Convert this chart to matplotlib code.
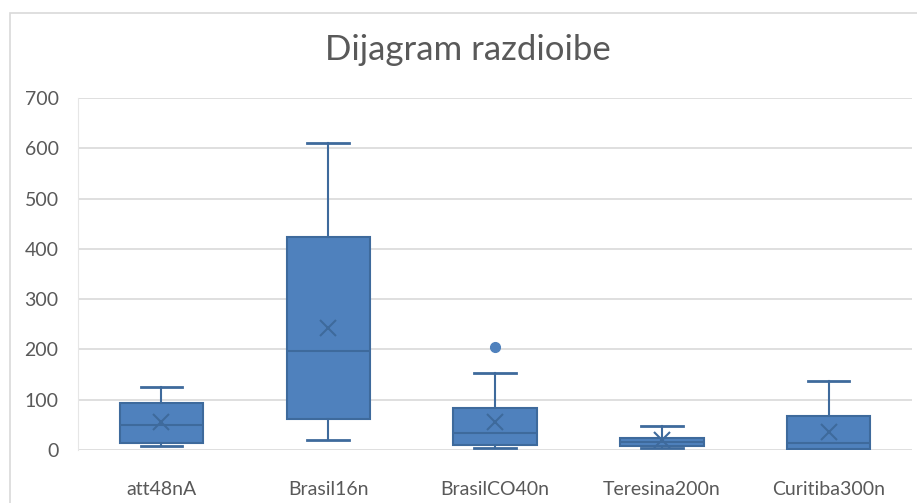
"""Box plot: Dijagram razdioibe."""

import matplotlib
matplotlib.use('Agg')
from matplotlib import pyplot
from matplotlib.patches import Rectangle

# Values (quartiles, whiskers, means, outliers).
labels = ['att48nA', 'Brasil16n', 'BrasilCO40n', 'Teresina200n', 'Curitiba300n']
whislo = [8, 19, 3, 3, 1]
q1 = [13, 61, 10, 7, 2]
med = [50, 197, 34, 15, 13]
q3 = [93, 423, 84, 23, 68]
whishi = [126, 610, 154, 47, 137]
mean = [56, 243, 56, 19, 36]
fliers = [[], [], [205], [], []]

fill = '#4F81BD'
edge = '#3E6A9C'
grid = '#D9D9D9'
text_color = '#595959'

pyplot.rc('font', family=['Lato', 'DejaVu Sans'])
fig = pyplot.figure(figsize=(9.17, 5.03), dpi=100)
W, H = 917, 503
ax = fig.add_axes([78 / W, 1 - 450 / H, (912 - 78) / W, (450 - 98) / H])

stats = []
for i, lab in enumerate(labels):
    stats.append(dict(label=lab, whislo=whislo[i], q1=q1[i], med=med[i],
                      q3=q3[i], whishi=whishi[i], mean=mean[i],
                      fliers=fliers[i]))

ax.bxp(stats, positions=range(len(labels)), widths=0.5, patch_artist=True,
       showmeans=True,
       boxprops=dict(facecolor=fill, edgecolor=edge, linewidth=1.5),
       medianprops=dict(color=edge, linewidth=1.5),
       whiskerprops=dict(color=edge, linewidth=1.5),
       capprops=dict(color=edge, linewidth=2),
       meanprops=dict(marker='x', markeredgecolor=edge, markersize=12,
                      markeredgewidth=1.5),
       flierprops=dict(marker='o', markerfacecolor=fill, markeredgecolor=fill,
                       markersize=7))

ax.set_xlim(-0.5, len(labels) - 0.5)
ax.set_ylim(0, 700)
ax.set_yticks(range(0, 701, 100))
ax.yaxis.grid(True, color=grid, linewidth=1.2)
ax.set_axisbelow(True)
for side in ['top', 'right', 'bottom']:
    ax.spines[side].set_visible(False)
ax.spines['left'].set_color('#E6E6E6')
ax.tick_params(length=0, labelsize=14, colors=text_color)
ax.tick_params(axis='y', pad=14)
ax.tick_params(axis='x', pad=22)

# Light frame around the chart area.
fig.patches.append(Rectangle((10 / W, -0.1), 2.0, 1 - 13 / H + 0.1,
                             transform=fig.transFigure, fill=False,
                             edgecolor=grid, linewidth=1.2))

fig.text(468 / W, 1 - 50 / H, 'Dijagram razdioibe', ha='center',
         va='center', fontsize=25, color=text_color)

fig.savefig('out.png', dpi=100)
